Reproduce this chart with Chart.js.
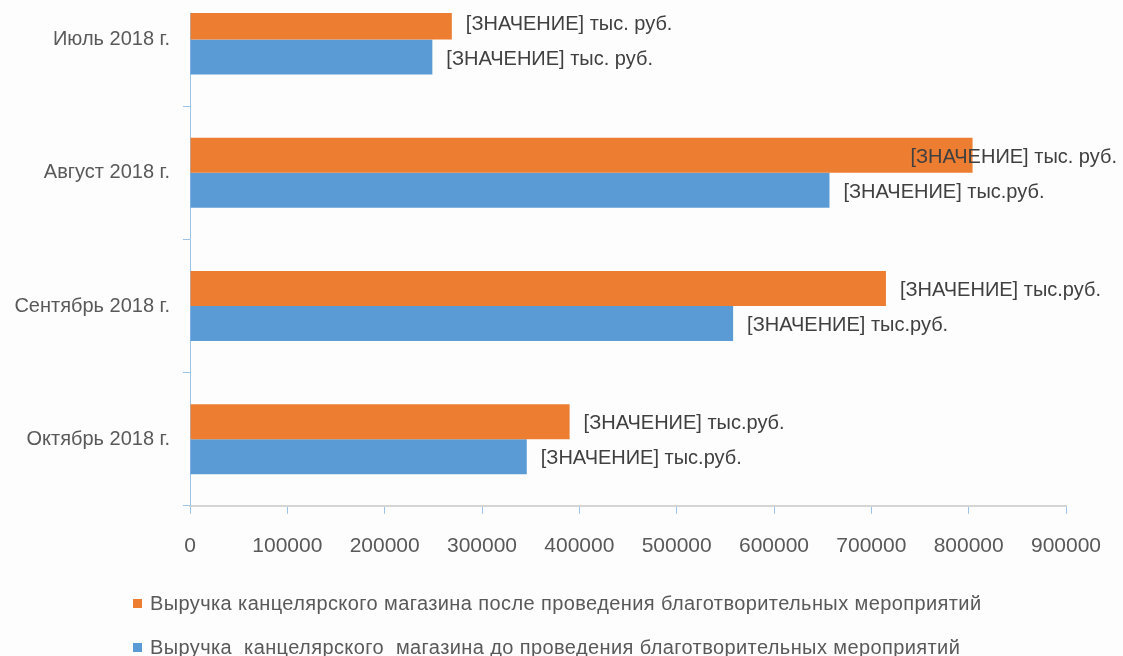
<!DOCTYPE html>
<html lang="ru">
<head>
    <meta charset="UTF-8" />
    <title>Выручка канцелярского магазина</title>
    <script src="https://cdn.jsdelivr.net/npm/chart.js"></script>
    <style>
        html, body {
            margin: 0;
            padding: 0;
            background: #fdfdfd;
            overflow: hidden;
        }
        /* the picture is cropped: plot area is cut at 13px from the top */
        .chart-box {
            position: absolute;
            left: 0;
            top: 13px;
            width: 1123px;
            height: 643px;
            overflow: hidden;
        }
        .chart-box canvas {
            position: absolute;
            left: 0;
            top: -65px;
        }
    </style>
</head>
<body>
<div class="chart-box">
    <canvas id="revenueChart" width="1123" height="709"></canvas>
</div>

<script>
  // Months and revenue (rub.)
  const months = ['Июль 2018 г.', 'Август 2018 г.', 'Сентябрь 2018 г.', 'Октябрь 2018 г.'];
  const revenueAfter = [269000, 804000, 715000, 390000];
  const revenueBefore = [249000, 657000, 558000, 346000];
  const labelsAfter = ['[ЗНАЧЕНИЕ] тыс. руб.', '[ЗНАЧЕНИЕ] тыс. руб.', '[ЗНАЧЕНИЕ] тыс.руб.', '[ЗНАЧЕНИЕ] тыс.руб.'];
  const labelsBefore = ['[ЗНАЧЕНИЕ] тыс. руб.', '[ЗНАЧЕНИЕ] тыс.руб.', '[ЗНАЧЕНИЕ] тыс.руб.', '[ЗНАЧЕНИЕ] тыс.руб.'];
  const seriesNames = [
    'Выручка канцелярского магазина после проведения благотворительных мероприятий',
    'Выручка  канцелярского  магазина до проведения благотворительных мероприятий'
  ];

  const FONT = "'Liberation Sans', Arial, sans-serif";
  const TEXT = '#595959';

  // value labels to the right of each bar, pulled back inside if they run off the canvas
  const valueLabels = {
    id: 'valueLabels',
    afterDatasetsDraw(chart) {
      const ctx = chart.ctx;
      ctx.save();
      ctx.font = '20px ' + FONT;
      ctx.fillStyle = '#404040';
      ctx.textBaseline = 'middle';
      chart.data.datasets.forEach((ds, i) => {
        chart.getDatasetMeta(i).data.forEach((bar, j) => {
          const text = ds.valueText[j];
          const w = ctx.measureText(text).width;
          let x = bar.x + 14;
          if (x + w > chart.width - 6) x = chart.width - 6 - w;
          ctx.fillText(text, x, bar.y + 2);
        });
      });
      ctx.restore();
    }
  };

  // stacked legend below the axis
  const stackedLegend = {
    id: 'stackedLegend',
    afterDraw(chart) {
      const ctx = chart.ctx;
      ctx.save();
      ctx.font = '20px ' + FONT;
      ctx.letterSpacing = '0.4px';
      ctx.textBaseline = 'middle';
      chart.data.datasets.forEach((ds, i) => {
        const y = 656 + i * 44;
        ctx.fillStyle = ds.backgroundColor;
        ctx.fillRect(133, y - 5, 9, 9);
        ctx.fillStyle = TEXT;
        ctx.fillText(ds.label, 150, y);
      });
      ctx.restore();
    }
  };

  const ctx = document.getElementById('revenueChart').getContext('2d');
  new Chart(ctx, {
    type: 'bar',
    data: {
      labels: months,
      datasets: [
        {
          label: seriesNames[0],
          data: revenueAfter,
          valueText: labelsAfter,
          backgroundColor: '#ED7D31',
          barPercentage: 1,
          categoryPercentage: 0.525
        },
        {
          label: seriesNames[1],
          data: revenueBefore,
          valueText: labelsBefore,
          backgroundColor: '#5B9BD5',
          barPercentage: 1,
          categoryPercentage: 0.525
        }
      ]
    },
    options: {
      indexAxis: 'y',
      responsive: false,
      animation: false,
      layout: { padding: { top: 13, right: 57, bottom: 78, left: 0 } },
      plugins: {
        legend: { display: false },
        tooltip: { enabled: false }
      },
      scales: {
        x: {
          min: 0,
          max: 900000,
          ticks: {
            stepSize: 100000,
            padding: 20,
            color: TEXT,
            font: { family: FONT, size: 21 },
            maxRotation: 0,
            callback: v => String(v)
          },
          grid: { drawOnChartArea: false, tickLength: 8, color: '#9DC3E6' },
          border: { color: '#D4D4D4', width: 2 }
        },
        y: {
          ticks: {
            padding: 13,
            color: TEXT,
            font: { family: FONT, size: 20 }
          },
          grid: { drawOnChartArea: false, tickLength: 7, color: '#9DC3E6' },
          border: { color: '#9DC3E6', width: 1 },
          afterFit(scale) { scale.width = 190; }
        }
      }
    },
    plugins: [valueLabels, stackedLegend]
  });
</script>
</body>
</html>
